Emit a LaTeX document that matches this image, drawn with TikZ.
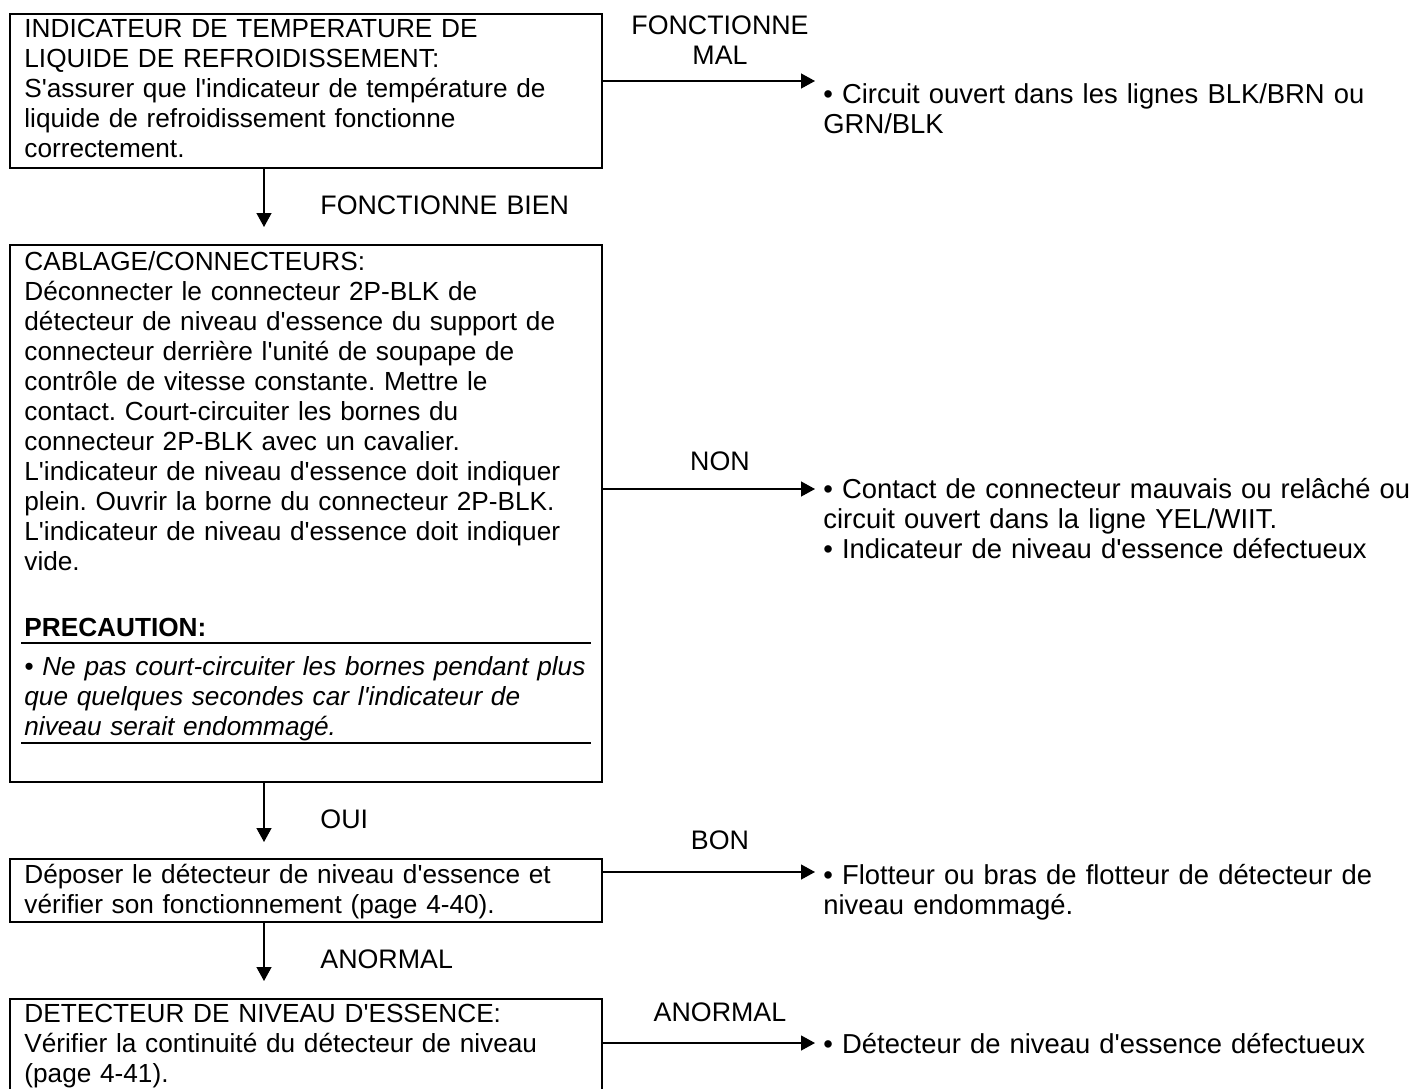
\documentclass[tikz,border=0pt]{standalone}
\usepackage{fontspec}
\setmainfont{Liberation Sans}[Ligatures=TeXOff]
\usetikzlibrary{arrows.meta}
\newcommand\fs{\fontsize{13.1pt}{15pt}\selectfont\lineskiplimit=-20pt\lineskip=0pt}
\newcommand\fr{\fontsize{13.7pt}{15pt}\selectfont\lineskiplimit=-20pt\lineskip=0pt}
\newcommand\fl{\fontsize{13.4pt}{15pt}\selectfont\lineskiplimit=-20pt\lineskip=0pt}
\newcommand\tstrut{\rule{0pt}{12.5pt}}
\begin{document}
\frenchspacing
\begin{tikzpicture}[x=0.5pt,y=-0.5pt,
  box/.style={draw,line width=1pt,inner sep=0pt,anchor=north west,minimum width=296pt},
  txt/.style={inner sep=0pt,anchor=north west,align=left,text width=340pt,font=\fs},
  res/.style={txt,font=\fr},
  lbl/.style={inner sep=0pt,anchor=north,align=center,font=\fl},
  conn/.style={line width=0.65pt,-{Triangle[length=7pt,width=7.5pt]}},
  rule/.style={line width=1pt}]
\clip (0,0) rectangle (1419,1088);

% decision boxes
\node[box,minimum height=77pt]   (b1) at (9,13)  {};
\node[box,minimum height=268.5pt](b2) at (9,244) {};
\node[box,minimum height=31.5pt] (b3) at (9,858) {};
\node[box,minimum height=55pt]   (b4) at (9,998) {};

% box texts (first baseline = top + 25)
\node[txt] (t1) at (24,12) {\tstrut INDICATEUR DE TEMPERATURE DE\\
LIQUIDE DE REFROIDISSEMENT:\\
S'assurer que l'indicateur de température de\\
liquide de refroidissement fonctionne\\
correctement.};
\node[txt] (t2) at (24,245) {\tstrut CABLAGE/CONNECTEURS:\\
Déconnecter le connecteur 2P-BLK de\\
détecteur de niveau d'essence du support de\\
connecteur derrière l'unité de soupape de\\
contrôle de vitesse constante. Mettre le\\
contact. Court-circuiter les bornes du\\
connecteur 2P-BLK avec un cavalier.\\
L'indicateur de niveau d'essence doit indiquer\\
plein. Ouvrir la borne du connecteur 2P-BLK.\\
L'indicateur de niveau d'essence doit indiquer\\
vide.};
\node[txt,font=\fs\bfseries] (pc) at (24,611) {\tstrut PRECAUTION:};
\node[txt,font=\fs\itshape] (pn) at (24,650) {\tstrut• Ne pas court-circuiter les bornes pendant plus\\
que quelques secondes car l'indicateur de\\
niveau serait endommagé.};
\draw[rule] (21,643) -- (591,643);
\draw[rule] (21,743) -- (591,743);
\node[txt] (t3) at (24,858) {\tstrut Déposer le détecteur de niveau d'essence et\\
vérifier son fonctionnement (page 4-40).};
\node[txt] (t4) at (24,997) {\tstrut DETECTEUR DE NIVEAU D'ESSENCE:\\
Vérifier la continuité du détecteur de niveau\\
(page 4-41).};

% downward flow
\coordinate (d1) at (264,227);
\coordinate (d2) at (264,842);
\coordinate (d3) at (264,981);
\draw[conn] (b1.south -| d1) -- (d1);
\draw[conn] (b2.south -| d2) -- (d2);
\draw[conn] (b3.south -| d3) -- (d3);
\node[txt,font=\fl] (l1) at (320,189) {\tstrut FONCTIONNE BIEN};
\node[txt,font=\fl] (l2) at (320,803) {\tstrut OUI};
\node[txt,font=\fl] (l3) at (320,943) {\tstrut ANORMAL};

% side branches
\coordinate (h1) at (815,81);
\coordinate (h2) at (815,489);
\coordinate (h3) at (815,872);
\coordinate (h4) at (815,1043);
\draw[conn] (b1.east |- h1) -- (h1);
\draw[conn] (b2.east |- h2) -- (h2);
\draw[conn] (b3.east |- h3) -- (h3);
\draw[conn] (b4.east |- h4) -- (h4);
\node[lbl] (m1) at (720,9) {\tstrut FONCTIONNE\\MAL};
\node[lbl] (m2) at (720,445) {\tstrut NON};
\node[lbl] (m3) at (720,824) {\tstrut BON};
\node[lbl] (m4) at (720,996) {\tstrut ANORMAL};

\node[res] (r1) at (823,78) {\tstrut• Circuit ouvert dans les lignes BLK/BRN ou\\
GRN/BLK};
\node[res] (r2) at (823,473) {\tstrut• Contact de connecteur mauvais ou relâché ou\\
circuit ouvert dans la ligne YEL/WIIT.\\
• Indicateur de niveau d'essence défectueux};
\node[res] (r3) at (823,859) {\tstrut• Flotteur ou bras de flotteur de détecteur de\\
niveau endommagé.};
\node[res] (r4) at (823,1028) {\tstrut• Détecteur de niveau d'essence défectueux};
\end{tikzpicture}
\end{document}
